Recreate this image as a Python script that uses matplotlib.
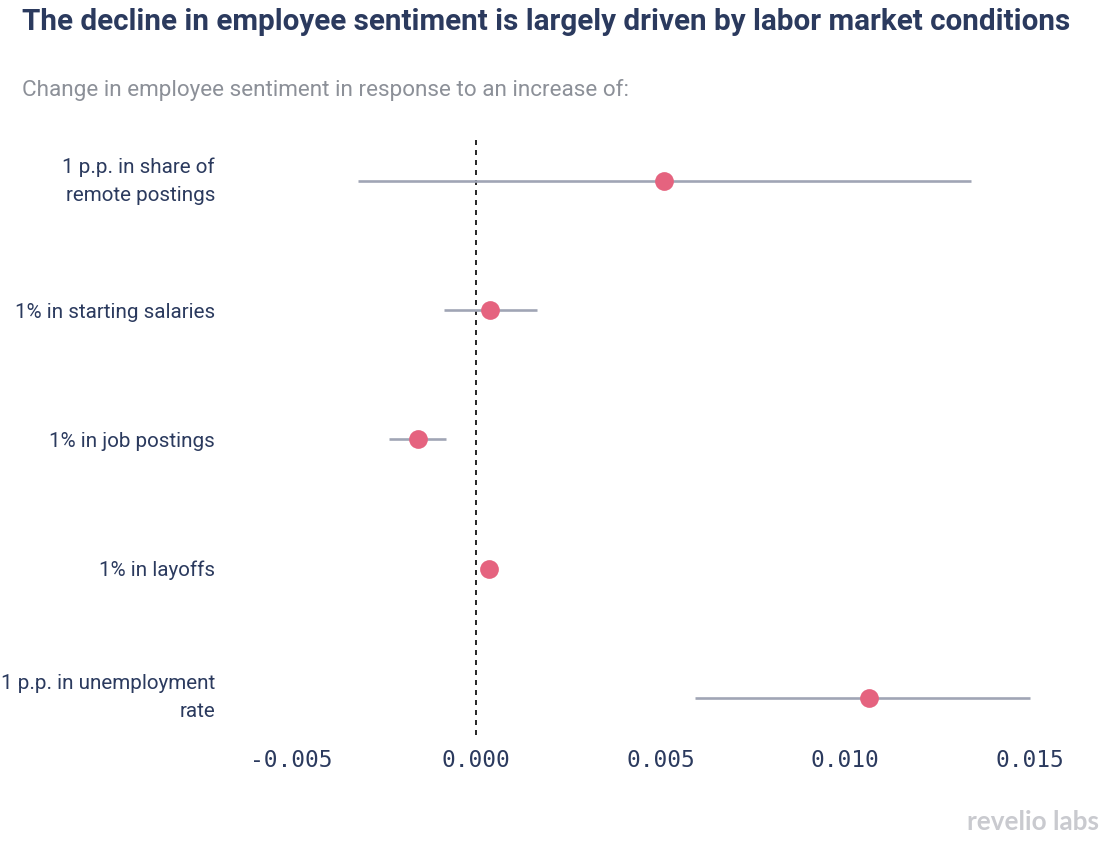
import matplotlib
matplotlib.use("Agg")
import matplotlib.pyplot as plt

categories = ["1 p.p. in share of\nremote postings", "1% in starting salaries",
              "1% in job postings", "1% in layoffs", "1 p.p. in unemployment\nrate"]
estimates = [0.0051, 0.00038, -0.00157, 0.00035, 0.01065]
ci_low = [-0.0032, -0.00087, -0.00236, 0.00016, 0.00593]
ci_high = [0.0134, 0.00165, -0.00081, 0.00057, 0.01499]
xticks = [-0.005, 0.0, 0.005, 0.010, 0.015]
xtick_labels = ["-0.005", "0.000", "0.005", "0.010", "0.015"]

W, H = 1119, 852
fig = plt.figure(figsize=(W / 100, H / 100), dpi=100)
navy = "#2b3a5e"
ax = fig.add_axes([240 / W, 1 - 735 / H, 860 / W, (735 - 140) / H])

ys = list(range(len(categories)))
for y, lo, hi in zip(ys, ci_low, ci_high):
    ax.plot([lo, hi], [y, y], color="#a0a5b5", lw=1.9, solid_capstyle="butt", zorder=2)
ax.plot(estimates, ys, "o", color="#e5637f", ms=13.5, zorder=3, markeredgewidth=0)
ax.axvline(0, color="black", lw=1.2, ls=(0, (3, 3)), zorder=1)

ax.set_xlim(-0.0064, 0.0169)
ax.set_ylim(4.29, -0.32)
ax.set_yticks(ys)
ax.set_yticklabels(categories, fontsize=14.9, color=navy, family="Roboto",
                   linespacing=1.58)
for lab in ax.get_yticklabels():
    if "\n" in lab.get_text():
        lab.set_va("center")
ax.set_xticks(xticks)
ax.set_xticklabels(xtick_labels, fontsize=16.5, color=navy, family="DejaVu Sans Mono")
ax.tick_params(axis="both", length=0)
ax.tick_params(axis="y", pad=18)
ax.tick_params(axis="x", pad=10)
for s in ax.spines.values():
    s.set_visible(False)

fig.text(22 / W, 1 - 22 / H, "The decline in employee sentiment is largely driven by labor market conditions",
         fontsize=21.3, fontweight="bold", color=navy, family="Roboto", va="center", ha="left")
fig.text(22 / W, 1 - 90 / H, "Change in employee sentiment in response to an increase of:",
         fontsize=16.2, color="#8c9098", family="Roboto", va="center", ha="left")
fig.text(1099 / W, 1 - 822 / H, "revelio labs", fontsize=18.8, fontweight="bold",
         color="#c9cacf", family="Lato", va="center", ha="right")

fig.savefig("out.png", dpi=100)
